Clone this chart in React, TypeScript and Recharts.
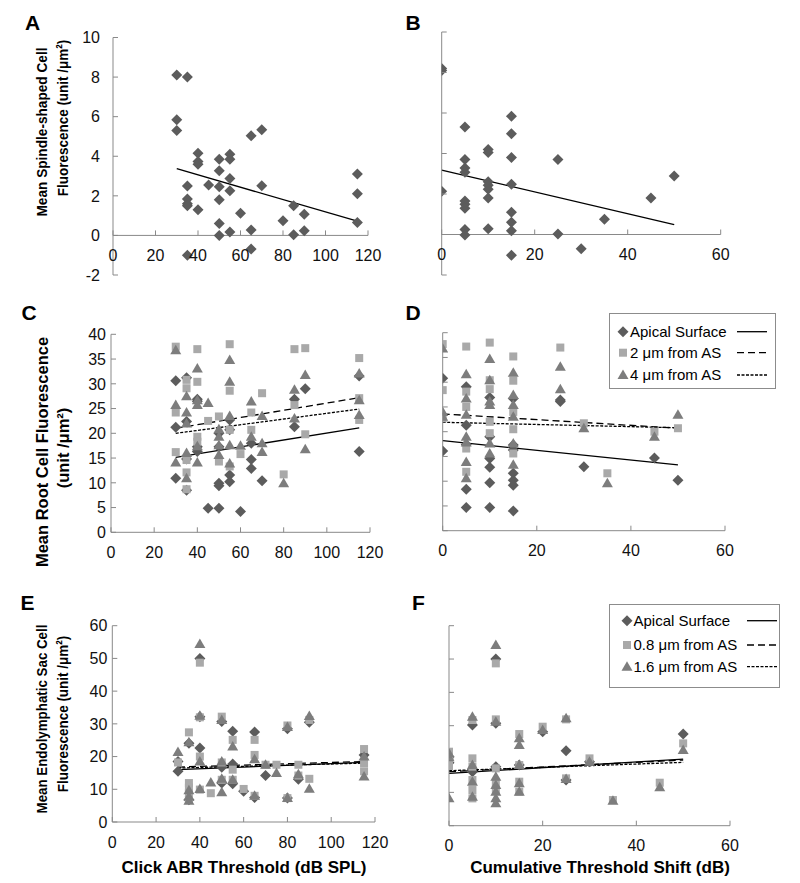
import React from 'react';
import { ScatterChart, Scatter, XAxis, YAxis, ReferenceLine, Legend } from 'recharts';

type Pt = { x: number; y: number };

const FONT = 'Arial, "Liberation Sans", Helvetica, sans-serif';
const AXIS = '#898989';
const DIAMOND = '#5c5c5c';
const SQUARE = '#a9a9a9';
const TRIANGLE = '#7d7d7d';
const Y_W = 40;
const X_H = 30;

// tick values
const ticks120 = [0, 20, 40, 60, 80, 100, 120];
const ticks60 = [0, 20, 40, 60];
const ticksSpindle = [-2, 0, 2, 4, 6, 8, 10];
const ticksRoot = [0, 5, 10, 15, 20, 25, 30, 35, 40];
const ticksSac = [0, 10, 20, 30, 40, 50, 60];

// A: spindle-shaped cells vs click ABR threshold
const aApical: Pt[] = [
  { x: 30, y: 8.1 }, { x: 35, y: 8.0 }, { x: 30, y: 5.85 }, { x: 30, y: 5.3 }, { x: 40, y: 4.15 },
  { x: 40, y: 3.73 }, { x: 40, y: 3.6 }, { x: 35, y: 2.5 }, { x: 35, y: 1.84 }, { x: 35, y: 1.6 },
  { x: 35, y: 1.5 }, { x: 40, y: 1.3 }, { x: 45, y: 2.55 }, { x: 50, y: 3.85 }, { x: 50, y: 3.27 },
  { x: 50, y: 2.46 }, { x: 50, y: 1.8 }, { x: 50, y: 0.6 }, { x: 50, y: 0 }, { x: 55, y: 4.1 },
  { x: 55, y: 3.85 }, { x: 55, y: 2.88 }, { x: 55, y: 2.26 }, { x: 55, y: 0.17 }, { x: 35, y: -1.0 },
  { x: 60, y: 1.12 }, { x: 65, y: 5.03 }, { x: 65, y: 0.28 }, { x: 65, y: -0.69 }, { x: 70, y: 5.34 },
  { x: 70, y: 2.51 }, { x: 80, y: 0.74 }, { x: 85, y: 1.5 }, { x: 85, y: 0.03 }, { x: 90, y: 1.07 },
  { x: 90, y: 0.23 }, { x: 115, y: 3.1 }, { x: 115, y: 2.11 }, { x: 115, y: 0.65 },
];
const trendA: Pt[] = [{ x: 30, y: 3.37 }, { x: 115, y: 0.72 }];

// B: spindle-shaped cells vs cumulative threshold shift
const bApical: Pt[] = [
  { x: 0, y: 8.2 }, { x: 0, y: 8.1 }, { x: 0, y: 2.13 }, { x: 5, y: 5.31 }, { x: 5, y: 3.7 },
  { x: 5, y: 3.28 }, { x: 5, y: 3.08 }, { x: 5, y: 1.65 }, { x: 5, y: 1.5 }, { x: 5, y: 1.3 },
  { x: 5, y: 0.25 }, { x: 5, y: -0.03 }, { x: 10, y: 4.2 }, { x: 10, y: 4.05 }, { x: 10, y: 2.6 },
  { x: 10, y: 2.43 }, { x: 10, y: 2.23 }, { x: 10, y: 1.8 }, { x: 10, y: 0.28 }, { x: 15, y: 5.84 },
  { x: 15, y: 4.98 }, { x: 15, y: 3.8 }, { x: 15, y: 2.48 }, { x: 15, y: 1.1 }, { x: 15, y: 0.6 },
  { x: 15, y: 0.18 }, { x: 15, y: -1.03 }, { x: 25, y: 3.7 }, { x: 25, y: 0.02 }, { x: 30, y: -0.7 },
  { x: 35, y: 0.75 }, { x: 45, y: 1.8 }, { x: 50, y: 2.89 },
];
const trendB: Pt[] = [{ x: 0, y: 3.18 }, { x: 50, y: 0.49 }];

// C: root cells vs click ABR threshold
const cApical: Pt[] = [
  { x: 30, y: 30.6 }, { x: 30, y: 21.2 }, { x: 30, y: 10.9 }, { x: 35, y: 31.2 }, { x: 35, y: 22.4 },
  { x: 35, y: 14.8 }, { x: 35, y: 8.5 }, { x: 40, y: 26.9 }, { x: 40, y: 26.5 }, { x: 40, y: 17.3 },
  { x: 40, y: 16.3 }, { x: 45, y: 4.85 }, { x: 50, y: 20.0 }, { x: 50, y: 17.3 }, { x: 50, y: 9.9 },
  { x: 50, y: 9.4 }, { x: 50, y: 4.85 }, { x: 55, y: 22.7 }, { x: 55, y: 20.7 }, { x: 55, y: 11.6 },
  { x: 55, y: 10.2 }, { x: 60, y: 4.2 }, { x: 65, y: 18.0 }, { x: 65, y: 14.7 }, { x: 65, y: 12.9 },
  { x: 70, y: 10.4 }, { x: 85, y: 26.9 }, { x: 85, y: 21.3 }, { x: 90, y: 29.0 }, { x: 115, y: 31.6 },
  { x: 115, y: 16.3 },
];
const cTwo: Pt[] = [
  { x: 30, y: 37.5 }, { x: 30, y: 24.2 }, { x: 30, y: 16.2 }, { x: 35, y: 30.8 }, { x: 35, y: 29.1 },
  { x: 35, y: 14.6 }, { x: 35, y: 12.1 }, { x: 35, y: 8.7 }, { x: 40, y: 37.0 }, { x: 40, y: 30.4 },
  { x: 40, y: 19.3 }, { x: 40, y: 18.3 }, { x: 45, y: 22.5 }, { x: 50, y: 23.4 }, { x: 50, y: 14.3 },
  { x: 55, y: 38.0 }, { x: 55, y: 28.6 }, { x: 55, y: 20.7 }, { x: 55, y: 13.3 }, { x: 60, y: 15.8 },
  { x: 65, y: 24.2 }, { x: 65, y: 20.7 }, { x: 70, y: 28.1 }, { x: 80, y: 11.7 }, { x: 85, y: 37.0 },
  { x: 85, y: 25.7 }, { x: 90, y: 37.2 }, { x: 90, y: 19.8 }, { x: 115, y: 35.2 }, { x: 115, y: 27.1 },
  { x: 115, y: 22.7 },
];
const cFour: Pt[] = [
  { x: 30, y: 36.8 }, { x: 30, y: 25.7 }, { x: 30, y: 14.1 }, { x: 35, y: 27.5 }, { x: 35, y: 24.2 },
  { x: 35, y: 22.0 }, { x: 35, y: 16.0 }, { x: 35, y: 10.9 }, { x: 40, y: 33.1 }, { x: 40, y: 26.7 },
  { x: 40, y: 25.7 }, { x: 40, y: 17.4 }, { x: 40, y: 14.1 }, { x: 45, y: 26.1 }, { x: 50, y: 20.8 },
  { x: 50, y: 19.3 }, { x: 50, y: 17.6 }, { x: 50, y: 15.6 }, { x: 55, y: 34.8 }, { x: 55, y: 30.4 },
  { x: 55, y: 23.5 }, { x: 55, y: 17.6 }, { x: 55, y: 13.9 }, { x: 60, y: 17.5 }, { x: 65, y: 26.4 },
  { x: 65, y: 19.3 }, { x: 70, y: 23.5 }, { x: 70, y: 18.0 }, { x: 70, y: 16.2 }, { x: 80, y: 9.9 },
  { x: 85, y: 28.8 }, { x: 85, y: 23.0 }, { x: 90, y: 31.8 }, { x: 90, y: 16.8 }, { x: 115, y: 32.1 },
  { x: 115, y: 26.7 }, { x: 115, y: 23.7 },
];
const trendCApical: Pt[] = [{ x: 30, y: 15.15 }, { x: 115, y: 21.1 }];
const trendCTwo: Pt[] = [{ x: 30, y: 21.0 }, { x: 115, y: 27.2 }];
const trendCFour: Pt[] = [{ x: 30, y: 20.0 }, { x: 115, y: 24.9 }];

// D: root cells vs cumulative threshold shift
const dApical: Pt[] = [
  { x: 0, y: 30.8 }, { x: 0, y: 16.1 }, { x: 5, y: 29.1 }, { x: 5, y: 21.3 }, { x: 5, y: 17.4 },
  { x: 5, y: 8.35 }, { x: 5, y: 4.7 }, { x: 10, y: 26.9 }, { x: 10, y: 19.0 }, { x: 10, y: 14.6 },
  { x: 10, y: 12.8 }, { x: 10, y: 9.7 }, { x: 10, y: 4.7 }, { x: 15, y: 26.7 }, { x: 15, y: 17.3 },
  { x: 15, y: 16.3 }, { x: 15, y: 11.6 }, { x: 15, y: 10.2 }, { x: 15, y: 9.2 }, { x: 15, y: 4.0 },
  { x: 25, y: 26.4 }, { x: 25, y: 26.1 }, { x: 30, y: 12.9 }, { x: 45, y: 14.7 }, { x: 50, y: 10.2 },
];
const dTwo: Pt[] = [
  { x: 0, y: 37.7 }, { x: 0, y: 28.4 }, { x: 0, y: 22.7 }, { x: 5, y: 37.2 }, { x: 5, y: 28.1 },
  { x: 5, y: 25.0 }, { x: 5, y: 16.6 }, { x: 5, y: 11.9 }, { x: 10, y: 38.0 }, { x: 10, y: 30.4 },
  { x: 10, y: 28.6 }, { x: 10, y: 22.0 }, { x: 10, y: 19.7 }, { x: 15, y: 35.2 }, { x: 15, y: 30.3 },
  { x: 15, y: 24.0 }, { x: 15, y: 20.5 }, { x: 15, y: 15.6 }, { x: 25, y: 37.0 }, { x: 30, y: 21.7 },
  { x: 35, y: 11.6 }, { x: 45, y: 20.0 }, { x: 50, y: 20.7 },
];
const dFour: Pt[] = [
  { x: 0, y: 36.8 }, { x: 0, y: 24.0 }, { x: 0, y: 23.0 }, { x: 5, y: 31.6 }, { x: 5, y: 26.7 },
  { x: 5, y: 23.4 }, { x: 5, y: 19.0 }, { x: 5, y: 17.8 }, { x: 5, y: 13.9 }, { x: 5, y: 10.6 },
  { x: 10, y: 34.7 }, { x: 10, y: 30.4 }, { x: 10, y: 26.1 }, { x: 10, y: 25.4 }, { x: 10, y: 17.6 },
  { x: 10, y: 15.6 }, { x: 15, y: 31.9 }, { x: 15, y: 27.4 }, { x: 15, y: 25.4 }, { x: 15, y: 23.0 },
  { x: 15, y: 17.6 }, { x: 15, y: 13.3 }, { x: 25, y: 33.1 }, { x: 25, y: 28.6 }, { x: 30, y: 20.7 },
  { x: 35, y: 9.6 }, { x: 45, y: 19.0 }, { x: 50, y: 23.4 },
];
const trendDApical: Pt[] = [{ x: 0, y: 18.2 }, { x: 50, y: 13.3 }];
const trendDTwo: Pt[] = [{ x: 0, y: 23.6 }, { x: 50, y: 20.7 }];
const trendDFour: Pt[] = [{ x: 0, y: 21.9 }, { x: 50, y: 20.8 }];

// E: endolymphatic sac cells vs click ABR threshold
const eApical: Pt[] = [
  { x: 30, y: 18.5 }, { x: 30, y: 15.5 }, { x: 35, y: 24.1 }, { x: 35, y: 6.8 }, { x: 40, y: 50.0 },
  { x: 40, y: 32.2 }, { x: 40, y: 22.6 }, { x: 50, y: 30.7 }, { x: 50, y: 16.7 }, { x: 50, y: 11.9 },
  { x: 55, y: 27.7 }, { x: 55, y: 17.7 }, { x: 55, y: 11.7 }, { x: 60, y: 9.4 }, { x: 65, y: 27.5 },
  { x: 65, y: 7.5 }, { x: 70, y: 14.2 }, { x: 80, y: 28.5 }, { x: 80, y: 7.3 }, { x: 85, y: 13.1 },
  { x: 90, y: 30.5 }, { x: 115, y: 20.5 },
];
const eEight: Pt[] = [
  { x: 30, y: 18.2 }, { x: 35, y: 27.4 }, { x: 35, y: 11.9 }, { x: 35, y: 10.5 }, { x: 35, y: 8.8 },
  { x: 35, y: 6.8 }, { x: 40, y: 48.7 }, { x: 40, y: 32.0 }, { x: 40, y: 20.0 }, { x: 40, y: 9.9 },
  { x: 45, y: 8.8 }, { x: 50, y: 32.2 }, { x: 50, y: 18.2 }, { x: 50, y: 12.9 }, { x: 55, y: 25.1 },
  { x: 55, y: 16.0 }, { x: 55, y: 12.9 }, { x: 60, y: 10.1 }, { x: 65, y: 25.1 }, { x: 65, y: 20.5 },
  { x: 65, y: 8.0 }, { x: 70, y: 17.5 }, { x: 75, y: 17.5 }, { x: 80, y: 29.5 }, { x: 80, y: 7.3 },
  { x: 85, y: 17.5 }, { x: 85, y: 14.2 }, { x: 90, y: 31.2 }, { x: 90, y: 13.2 }, { x: 115, y: 22.3 },
  { x: 115, y: 18.0 }, { x: 115, y: 15.5 },
];
const eSixteen: Pt[] = [
  { x: 30, y: 21.4 }, { x: 35, y: 24.4 }, { x: 35, y: 9.7 }, { x: 35, y: 7.8 }, { x: 35, y: 6.5 },
  { x: 40, y: 54.4 }, { x: 40, y: 32.5 }, { x: 40, y: 18.5 }, { x: 40, y: 10.1 }, { x: 45, y: 12.1 },
  { x: 50, y: 31.2 }, { x: 50, y: 18.5 }, { x: 50, y: 13.2 }, { x: 50, y: 9.1 }, { x: 55, y: 23.1 },
  { x: 55, y: 12.9 }, { x: 65, y: 19.2 }, { x: 65, y: 8.0 }, { x: 70, y: 17.5 }, { x: 75, y: 15.0 },
  { x: 80, y: 29.0 }, { x: 80, y: 7.3 }, { x: 85, y: 14.6 }, { x: 90, y: 32.4 }, { x: 90, y: 10.2 },
  { x: 115, y: 20.0 }, { x: 115, y: 13.9 },
];
const trendEApical: Pt[] = [{ x: 30, y: 16.0 }, { x: 115, y: 18.2 }];
const trendEEight: Pt[] = [{ x: 30, y: 16.8 }, { x: 115, y: 18.5 }];
const trendESixteen: Pt[] = [{ x: 30, y: 16.5 }, { x: 115, y: 18.0 }];

// F: endolymphatic sac cells vs cumulative threshold shift
const fApical: Pt[] = [
  { x: 0, y: 20.7 }, { x: 0, y: 18.9 }, { x: 5, y: 30.2 }, { x: 5, y: 16.2 }, { x: 10, y: 50.0 },
  { x: 10, y: 30.7 }, { x: 10, y: 17.7 }, { x: 15, y: 18.2 }, { x: 20, y: 28.2 }, { x: 25, y: 22.5 },
  { x: 25, y: 13.7 }, { x: 30, y: 19.2 }, { x: 50, y: 27.5 },
];
const fEight: Pt[] = [
  { x: 0, y: 22.2 }, { x: 0, y: 19.7 }, { x: 0, y: 17.9 }, { x: 5, y: 31.7 }, { x: 5, y: 20.2 },
  { x: 5, y: 17.7 }, { x: 5, y: 13.7 }, { x: 5, y: 10.7 }, { x: 5, y: 8.2 }, { x: 10, y: 48.7 },
  { x: 10, y: 31.9 }, { x: 10, y: 17.2 }, { x: 10, y: 12.9 }, { x: 10, y: 10.7 }, { x: 15, y: 27.5 },
  { x: 15, y: 18.2 }, { x: 15, y: 13.2 }, { x: 15, y: 10.2 }, { x: 20, y: 29.7 }, { x: 25, y: 31.9 },
  { x: 25, y: 14.2 }, { x: 30, y: 20.2 }, { x: 35, y: 7.7 }, { x: 45, y: 12.9 }, { x: 50, y: 24.7 },
];
const fSixteen: Pt[] = [
  { x: 0, y: 21.7 }, { x: 0, y: 20.5 }, { x: 0, y: 8.2 }, { x: 5, y: 32.7 }, { x: 5, y: 18.2 },
  { x: 5, y: 13.2 }, { x: 5, y: 8.7 }, { x: 10, y: 54.2 }, { x: 10, y: 31.2 }, { x: 10, y: 14.7 },
  { x: 10, y: 12.2 }, { x: 10, y: 10.2 }, { x: 10, y: 8.2 }, { x: 10, y: 6.7 }, { x: 15, y: 26.2 },
  { x: 15, y: 24.2 }, { x: 15, y: 18.2 }, { x: 15, y: 12.7 }, { x: 15, y: 10.2 }, { x: 20, y: 28.7 },
  { x: 25, y: 32.2 }, { x: 25, y: 14.0 }, { x: 30, y: 19.2 }, { x: 35, y: 7.5 }, { x: 45, y: 11.5 },
  { x: 50, y: 22.7 },
];
const trendFApical: Pt[] = [{ x: 0, y: 15.7 }, { x: 50, y: 20.0 }];
const trendFEight: Pt[] = [{ x: 0, y: 16.2 }, { x: 50, y: 19.7 }];
const trendFSixteen: Pt[] = [{ x: 0, y: 16.5 }, { x: 50, y: 19.0 }];

const namesRoot = ['Apical Surface', '2 μm from AS', '4 μm from AS'];
const namesSac = ['Apical Surface', '0.8 μm from AS', '1.6 μm from AS'];

const DASHED = '7 4';
const DOTTED = '3 1.5';

type ShapeKey = 'diamond' | 'square' | 'triangle';

const drawMarker = (kind: ShapeKey, cx: number, cy: number) => {
  if (kind === 'diamond') {
    const r = 5.5;
    return <polygon points={`${cx},${cy - r} ${cx + r},${cy} ${cx},${cy + r} ${cx - r},${cy}`} fill={DIAMOND} />;
  }
  if (kind === 'square') {
    return <rect x={cx - 4} y={cy - 4} width={8} height={8} fill={SQUARE} />;
  }
  return <polygon points={`${cx},${cy - 5.5} ${cx + 5.5},${cy + 4} ${cx - 5.5},${cy + 4}`} fill={TRIANGLE} />;
};

const SHAPES: Record<ShapeKey, (p: any) => React.ReactElement> = {
  diamond: (p: any) => drawMarker('diamond', p.cx, p.cy),
  square: (p: any) => drawMarker('square', p.cx, p.cy),
  triangle: (p: any) => drawMarker('triangle', p.cx, p.cy),
};

type Series = { name: string; data: Pt[]; shape: ShapeKey; trend: Pt[]; dash?: string };
type LegendLayout = { left: number; top: number; w: number; h: number; markerX: number; textX: number; rows: number[]; line: [number, number] };

const LegendBox = ({ series, lay }: { series: Series[]; lay: LegendLayout }) => (
  <svg width={lay.w} height={lay.h} style={{ display: 'block' }}>
    <rect x={0.5} y={0.5} width={lay.w - 1} height={lay.h - 1} fill="#fff" stroke="#8c8c8c" />
    {series.map((s, i) => (
      <g key={s.name}>
        {drawMarker(s.shape, lay.markerX, lay.rows[i])}
        <text x={lay.textX} y={lay.rows[i]} dy="0.36em" fontSize={15} fontFamily={FONT} fill="#000">
          {s.name}
        </text>
        <line x1={lay.line[0]} x2={lay.line[1]} y1={lay.rows[i]} y2={lay.rows[i]} stroke="#000" strokeWidth={1.3} strokeDasharray={s.dash} />
      </g>
    ))}
  </svg>
);

type PanelProps = {
  left: number;
  top: number;
  width: number;
  height: number;
  plot: { x0: number; x1: number; y0: number; y1: number };
  xDomain: [number, number];
  xTicks: number[];
  yDomain: [number, number];
  yTicks: number[];
  yLabels: boolean;
  yGap: number;
  zeroAxis?: boolean;
  series: Series[];
  legend?: LegendLayout;
};

const Panel = (props: PanelProps) => {
  const { left, top, width, height, plot, xDomain, xTicks, yDomain, yTicks, yLabels, yGap, zeroAxis, series, legend } = props;
  const plotH = plot.y1 - plot.y0;
  const margin = {
    top: plot.y0 - top,
    left: plot.x0 - left - Y_W,
    right: left + width - plot.x1,
    bottom: top + height - plot.y1 - X_H,
  };
  const shift = zeroAxis ? ((0 - yDomain[0]) / (yDomain[1] - yDomain[0])) * plotH : 0;

  const xTick = (p: any) => {
    const y = p.y - shift;
    return (
      <g>
        <line x1={p.x} x2={p.x} y1={y} y2={y - 5} stroke={AXIS} />
        <text x={p.x} y={y + 25.5} textAnchor="middle" fontSize={16} fontFamily={FONT} fill="#111">
          {p.payload.value}
        </text>
      </g>
    );
  };
  const yTick = (p: any) => (
    <g>
      <line x1={p.x} x2={p.x + 5} y1={p.y} y2={p.y} stroke={AXIS} />
      {yLabels && (
        <text x={p.x - yGap} y={p.y} dy="0.36em" textAnchor="end" fontSize={16} fontFamily={FONT} fill="#111">
          {p.payload.value}
        </text>
      )}
    </g>
  );

  return (
    <div style={{ position: 'absolute', left, top, width, height }}>
      <ScatterChart width={width} height={height} margin={margin}>
        <XAxis
          type="number"
          dataKey="x"
          domain={xDomain}
          ticks={xTicks}
          interval={0}
          height={X_H}
          axisLine={zeroAxis ? false : { stroke: AXIS }}
          tickLine={false}
          tickSize={0}
          tickMargin={0}
          tick={xTick}
          allowDataOverflow
        />
        <YAxis
          type="number"
          dataKey="y"
          domain={yDomain}
          ticks={yTicks}
          interval={0}
          width={Y_W}
          axisLine={{ stroke: AXIS }}
          tickLine={false}
          tickSize={0}
          tickMargin={0}
          tick={yTick}
          allowDataOverflow
        />
        {zeroAxis && <ReferenceLine y={0} stroke={AXIS} />}
        {series.map((s) => (
          <Scatter key={s.name} name={s.name} data={s.data} shape={SHAPES[s.shape]} isAnimationActive={false} />
        ))}
        {series.map((s) => (
          <ReferenceLine
            key={'t' + s.name}
            segment={s.trend}
            stroke="#000"
            strokeWidth={1.3}
            strokeDasharray={s.dash}
          />
        ))}
        {legend && (
          <Legend
            layout="horizontal"
            verticalAlign="middle"
            align="center"
            wrapperStyle={{ left: legend.left - left, top: legend.top - top, width: legend.w, height: legend.h }}
            content={() => <LegendBox series={series} lay={legend} />}
          />
        )}
      </ScatterChart>
    </div>
  );
};

const YTitle = ({ x, y, size, squeeze = 1, children }: { x: number; y: number; size: number; squeeze?: number; children: React.ReactNode }) => (
  <div
    style={{
      position: 'absolute',
      left: x,
      top: y,
      transform: `translate(-50%, -50%) rotate(-90deg) scaleX(${squeeze})`,
      whiteSpace: 'nowrap',
      fontWeight: 'bold',
      fontSize: size,
      lineHeight: 1,
    }}
  >
    {children}
  </div>
);

const XTitle = ({ x, y, children }: { x: number; y: number; children: React.ReactNode }) => (
  <div
    style={{
      position: 'absolute',
      left: x,
      top: y,
      transform: 'translate(-50%, -50%)',
      whiteSpace: 'nowrap',
      fontWeight: 'bold',
      fontSize: 17,
      lineHeight: 1,
    }}
  >
    {children}
  </div>
);

const Letter = ({ x, y, children }: { x: number; y: number; children: React.ReactNode }) => (
  <div style={{ position: 'absolute', left: x, top: y - 3, fontWeight: 'bold', fontSize: 21, lineHeight: 1 }}>{children}</div>
);

export default function App() {
  const spindleA: Series[] = [{ name: 'Apical Surface', data: aApical, shape: 'diamond', trend: trendA }];
  const spindleB: Series[] = [{ name: 'Apical Surface', data: bApical, shape: 'diamond', trend: trendB }];
  const rootC: Series[] = [
    { name: namesRoot[0], data: cApical, shape: 'diamond', trend: trendCApical },
    { name: namesRoot[1], data: cTwo, shape: 'square', trend: trendCTwo, dash: DASHED },
    { name: namesRoot[2], data: cFour, shape: 'triangle', trend: trendCFour, dash: DOTTED },
  ];
  const rootD: Series[] = [
    { name: namesRoot[0], data: dApical, shape: 'diamond', trend: trendDApical },
    { name: namesRoot[1], data: dTwo, shape: 'square', trend: trendDTwo, dash: DASHED },
    { name: namesRoot[2], data: dFour, shape: 'triangle', trend: trendDFour, dash: DOTTED },
  ];
  const sacE: Series[] = [
    { name: namesSac[0], data: eApical, shape: 'diamond', trend: trendEApical },
    { name: namesSac[1], data: eEight, shape: 'square', trend: trendEEight, dash: DASHED },
    { name: namesSac[2], data: eSixteen, shape: 'triangle', trend: trendESixteen, dash: DOTTED },
  ];
  const sacF: Series[] = [
    { name: namesSac[0], data: fApical, shape: 'diamond', trend: trendFApical },
    { name: namesSac[1], data: fEight, shape: 'square', trend: trendFEight, dash: DASHED },
    { name: namesSac[2], data: fSixteen, shape: 'triangle', trend: trendFSixteen, dash: DOTTED },
  ];

  return (
    <div style={{ position: 'absolute', left: 0, top: 0, width: 800, height: 883, background: '#fff', fontFamily: FONT, color: '#000', overflow: 'hidden' }}>
      <Panel left={0} top={0} width={400} height={310} plot={{ x0: 113, x1: 368, y0: 37.5, y1: 275 }}
        xDomain={[0, 120]} xTicks={ticks120} yDomain={[-2, 10]} yTicks={ticksSpindle} yLabels yGap={13} zeroAxis series={spindleA} />
      <Panel left={400} top={0} width={400} height={310} plot={{ x0: 441.7, x1: 720.7, y0: 32, y1: 275 }}
        xDomain={[0, 60]} xTicks={ticks60} yDomain={[-2, 10]} yTicks={ticksSpindle} yLabels={false} yGap={0} zeroAxis series={spindleB} />
      <Panel left={0} top={290} width={400} height={280} plot={{ x0: 111, x1: 370, y0: 334.3, y1: 532.3 }}
        xDomain={[0, 120]} xTicks={ticks120} yDomain={[0, 40]} yTicks={ticksRoot} yLabels yGap={5} series={rootC} />
      <Panel left={400} top={290} width={400} height={280} plot={{ x0: 442.7, x1: 725, y0: 332.7, y1: 530.7 }}
        xDomain={[0, 60]} xTicks={ticks60} yDomain={[0, 40]} yTicks={ticksRoot} yLabels={false} yGap={0} series={rootD}
        legend={{ left: 609, top: 313, w: 167, h: 76, markerX: 14, textX: 21, rows: [18.7, 39.7, 62], line: [128, 158] }} />
      <Panel left={0} top={580} width={400} height={303} plot={{ x0: 112.3, x1: 375, y0: 625.7, y1: 822 }}
        xDomain={[0, 120]} xTicks={ticks120} yDomain={[0, 60]} yTicks={ticksSac} yLabels yGap={5} series={sacE} />
      <Panel left={400} top={580} width={400} height={303} plot={{ x0: 449, x1: 730, y0: 625.7, y1: 825.7 }}
        xDomain={[0, 60]} xTicks={ticks60} yDomain={[0, 60]} yTicks={ticksSac} yLabels={false} yGap={0} series={sacF}
        legend={{ left: 609, top: 604, w: 171, h: 84, markerX: 18, textX: 24.5, rows: [16.7, 41, 62.7], line: [138, 168] }} />

      <Letter x={25} y={15}>A</Letter>
      <Letter x={405.5} y={15}>B</Letter>
      <Letter x={21.5} y={305}>C</Letter>
      <Letter x={405.5} y={305}>D</Letter>
      <Letter x={20.5} y={595}>E</Letter>
      <Letter x={412} y={595}>F</Letter>

      <YTitle x={42} y={132} size={15.5} squeeze={0.88}>Mean Spindle-shaped Cell</YTitle>
      <YTitle x={63} y={118} size={15.5} squeeze={0.87}>Fluorescence (unit /μm²)</YTitle>
      <YTitle x={42} y={451.7} size={16.5}>Mean Root Cell Fluorescence</YTitle>
      <YTitle x={63} y={447.5} size={16.5}>(unit /μm²)</YTitle>
      <YTitle x={42} y={719} size={15.5} squeeze={0.86}>Mean Endolymphatic Sac Cell</YTitle>
      <YTitle x={63} y={714} size={15.5} squeeze={0.87}>Fluorescence (unit /μm²)</YTitle>

      <XTitle x={244} y={866.7}>Click ABR Threshold (dB SPL)</XTitle>
      <XTitle x={600} y={866.7}>Cumulative Threshold Shift (dB)</XTitle>
    </div>
  );
}
